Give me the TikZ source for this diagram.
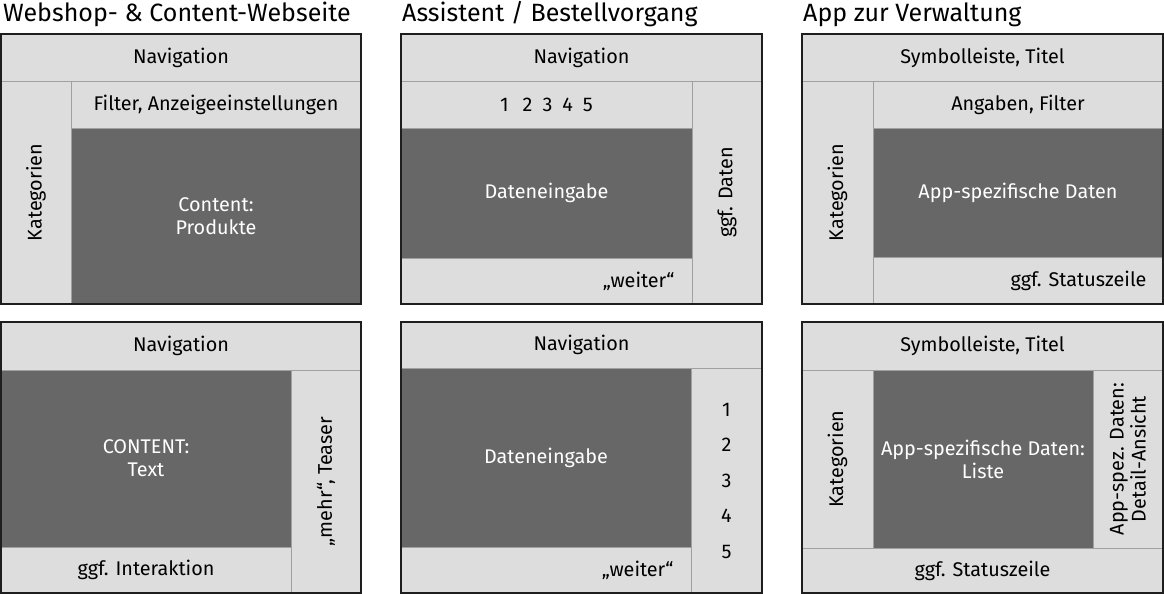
\documentclass[tikz,border=0pt]{standalone}
\usepackage{fontspec}
\setmainfont{Fira Sans}
\definecolor{lightc}{HTML}{DDDDDD}
\definecolor{darkc}{HTML}{676767}
\definecolor{divc}{HTML}{A0A0A0}
\definecolor{framec}{HTML}{1E1E1E}
\tikzset{
  region/.style={draw=divc, line width=1pt, inner sep=0pt, outer sep=0pt, anchor=north west, align=center},
  lightbox/.style={region, fill=lightc, text=black},
  darkbox/.style={region, fill=darkc, text=white},
  lbl/.style={font=\fontsize{19.8}{23}\selectfont},
  ttl/.style={font=\fontsize{25}{30}\selectfont, anchor=base west, inner sep=0pt},
  frame/.style={draw=framec, line width=1.6pt},
  vert/.style={rotate=90}
}
% \regbox{style}{name}{x1}{y1}{x2}{y2}{text}
\newcommand\regbox[7]{%
  \node[#1, lbl, minimum width={(#5-#3)*1pt}, minimum height={(#6-#4)*1pt}] (#2) at (#3,#4) {#7};}
\begin{document}
\begin{tikzpicture}[x=1pt,y=-1pt]
\useasboundingbox[fill=white] (0,0) rectangle (1164,594);

% titles
\node[ttl] (t1) at (3,22) {Webshop- \& Content-Webseite};
\node[ttl] (t2) at (402,22) {Assistent / Bestellvorgang};
\node[ttl] (t3) at (803,22) {App zur Verwaltung};

% ---- panel 1 top
\regbox{lightbox}{a1}{1}{34}{361}{81}{Navigation}
\regbox{lightbox}{a2}{1}{81}{71}{304}{}
\node[lbl, vert] (a2t) at (a2.center) {Kategorien};
\regbox{lightbox}{a3}{71}{81}{361}{128}{Filter, Anzeigeeinstellungen}
\regbox{darkbox}{a4}{71}{128}{361}{304}{Content:\\Produkte}
\draw[frame] (1,34) rectangle (361,304);

% ---- panel 2 top
\regbox{lightbox}{b1}{401}{34}{762}{81}{Navigation}
\regbox{lightbox}{b2}{401}{81}{692}{128}{1\hspace{14pt}2\hspace{10pt}3\hspace{10pt}4\hspace{10pt}5}
\regbox{darkbox}{b3}{401}{128}{692}{258}{Dateneingabe}
\regbox{lightbox}{b4}{401}{258}{692}{304}{}
\node[lbl, anchor=east] (b4t) at ([xshift=-14pt]b4.east) {„weiter“};
\regbox{lightbox}{b5}{692}{81}{762}{304}{}
\node[lbl, vert] (b5t) at (b5.center) {ggf. Daten};
\draw[frame] (401,34) rectangle (762,304);

% ---- panel 3 top
\regbox{lightbox}{c1}{802}{34}{1163}{81}{Symbolleiste, Titel}
\regbox{lightbox}{c2}{802}{81}{873}{304}{}
\node[lbl, vert] (c2t) at (c2.center) {Kategorien};
\regbox{lightbox}{c3}{873}{81}{1163}{128}{Angaben, Filter}
\regbox{darkbox}{c4}{873}{128}{1163}{257}{App-spezifische Daten}
\regbox{lightbox}{c5}{873}{257}{1163}{304}{}
\node[lbl, anchor=east] (c5t) at ([xshift=-13pt]c5.east) {ggf. Statuszeile};
\draw[frame] (802,34) rectangle (1163,304);

% ---- panel 1 bottom
\regbox{lightbox}{d1}{1}{322}{361}{370}{Navigation}
\regbox{darkbox}{d2}{1}{370}{291}{547}{CONTENT:\\Text}
\regbox{lightbox}{d3}{1}{547}{291}{593}{ggf. Interaktion}
\regbox{lightbox}{d4}{291}{370}{361}{593}{}
\node[lbl, vert] (d4t) at (d4.center) {„mehr“, Teaser};
\draw[frame] (1,322) rectangle (361,593);

% ---- panel 2 bottom
\regbox{lightbox}{e1}{401}{322}{762}{368}{Navigation}
\regbox{darkbox}{e2}{401}{368}{691}{547}{Dateneingabe}
\regbox{lightbox}{e3}{401}{547}{691}{593}{}
\node[lbl, anchor=east] (e3t) at ([xshift=-14pt]e3.east) {„weiter“};
\regbox{lightbox}{e4}{691}{368}{762}{593}{}
\node[font=\fontsize{19.8}{35.5}\selectfont, align=center] (e4t) at (e4.center) {1\\2\\3\\4\\5};
\draw[frame] (401,322) rectangle (762,593);

% ---- panel 3 bottom
\regbox{lightbox}{f1}{802}{322}{1163}{370}{Symbolleiste, Titel}
\regbox{lightbox}{f2}{802}{370}{873}{548}{}
\node[lbl, vert] (f2t) at (f2.center) {Kategorien};
\regbox{darkbox}{f3}{873}{370}{1093}{548}{App-spezifische Daten:\\Liste}
\regbox{lightbox}{f4}{1093}{370}{1163}{548}{}
\node[vert, align=center, font=\fontsize{19.8}{22}\selectfont] (f4t) at (f4.center) {App-spez. Daten:\\Detail-Ansicht};
\regbox{lightbox}{f5}{802}{548}{1163}{593}{ggf. Statuszeile}
\draw[frame] (802,322) rectangle (1163,593);
\end{tikzpicture}
\end{document}
